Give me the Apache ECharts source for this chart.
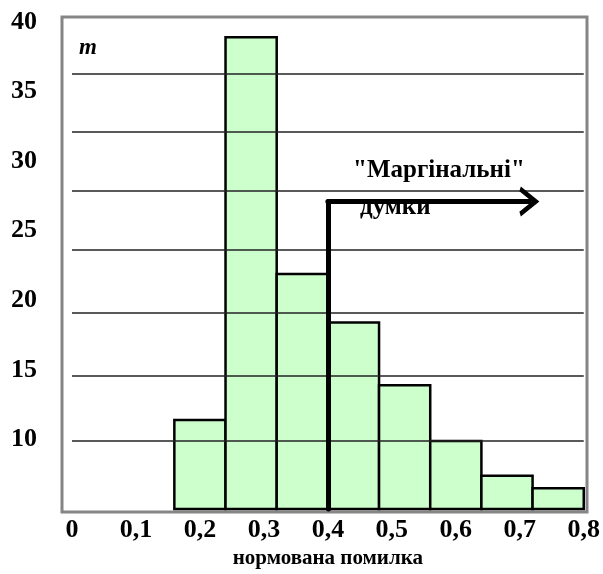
<!DOCTYPE html>
<html>
<head>
<meta charset="utf-8">
<script src="https://cdn.jsdelivr.net/npm/echarts@6/dist/echarts.min.js"></script>
<style>
  html, body { margin: 0; padding: 0; background: #fff; }
  #chart { width: 603px; height: 574px; }
</style>
</head>
<body>
<div id="chart"></div>
<script>
// histogram bins (normalised error) and counts m
const binEdges = [0.16, 0.24, 0.32, 0.40, 0.48, 0.56, 0.64, 0.72, 0.80];
const counts = [11.4, 38.9, 21.9, 18.4, 13.9, 9.9, 7.4, 6.5];
const yTicks = [10, 15, 20, 25, 30, 35, 40];
const xTicks = [0, 0.1, 0.2, 0.3, 0.4, 0.5, 0.6, 0.7, 0.8];
// horizontal rules as drawn in the original figure
const gridLevels = [9.9, 14.6, 19.1, 23.6, 27.9, 32.1, 36.3];
// "marginal" arrow: up from 0.4, then right
const arrowPath = [[0.4, 5], [0.4, 27.1], [0.715, 27.1]];

const FONT = '"Liberation Serif", "DejaVu Serif", serif';

const barData = counts.map((c, i) => [binEdges[i], binEdges[i + 1], c]);

const chart = echarts.init(document.getElementById('chart'));

const option = {
    backgroundColor: '#fff',
    animation: false,
    grid: [
        { left: 62, right: 16, top: 17, bottom: 62, show: true, borderColor: '#858585', borderWidth: 3, backgroundColor: 'transparent' },
        { left: 72, right: 19, top: 22, bottom: 62 }
    ],
    xAxis: [
        { gridIndex: 0, type: 'value', min: 0, max: 1, show: false },
        {
            gridIndex: 1,
            type: 'value',
            min: 0,
            max: 0.8,
            interval: 0.1,
            axisLine: { show: false },
            axisTick: { show: false },
            splitLine: { show: false },
            axisLabel: {
                margin: 8,
                color: '#000',
                fontFamily: FONT,
                fontWeight: 'bold',
                fontSize: 26,
                formatter: v => xTicks.some(t => Math.abs(t - v) < 1e-6) ? String(+v.toFixed(1)).replace('.', ',') : ''
            },
            name: 'нормована помилка',
            nameLocation: 'middle',
            nameGap: 33,
            nameTextStyle: { color: '#000', fontFamily: FONT, fontWeight: 'bold', fontSize: 21 }
        }
    ],
    yAxis: [
        { gridIndex: 0, type: 'value', min: 0, max: 1, show: false },
        {
            gridIndex: 1,
            type: 'value',
            min: 5,
            max: 40,
            interval: 5,
            axisLine: { show: false },
            axisTick: { show: false },
            splitLine: { show: false },
            axisLabel: {
                margin: 35,
                color: '#000',
                fontFamily: FONT,
                fontWeight: 'bold',
                fontSize: 26,
                formatter: v => yTicks.indexOf(v) >= 0 ? String(v) : ''
            }
        }
    ],
    graphic: [
        { type: 'text', left: 79, top: 37, style: { text: 'm', fill: '#000', font: 'italic bold 23px ' + FONT } },
        { type: 'text', left: 353, top: 158, z: 10, style: { text: '"Маргінальні"', fill: '#000', font: 'bold 25px ' + FONT } },
        { type: 'text', left: 360, top: 195, z: 10, style: { text: 'думки', fill: '#000', font: 'bold 25px ' + FONT } }
    ],
    series: [
        {
            type: 'line',
            xAxisIndex: 1,
            yAxisIndex: 1,
            z: 1,
            data: [],
            silent: true,
            markLine: {
                silent: true,
                symbol: 'none',
                label: { show: false },
                lineStyle: { color: '#222', width: 1.5, type: 'solid' },
                data: gridLevels.map(v => ({ yAxis: v }))
            }
        },
        {
            type: 'custom',
            xAxisIndex: 1,
            yAxisIndex: 1,
            z: 3,
            data: barData,
            renderItem: function (params, api) {
                const p0 = api.coord([api.value(0), api.value(2)]);
                const p1 = api.coord([api.value(1), 5]);
                return {
                    type: 'rect',
                    shape: { x: p0[0], y: p0[1], width: p1[0] - p0[0], height: p1[1] - p0[1] },
                    style: { fill: '#ccffcc', stroke: '#000', lineWidth: 2.5 }
                };
            }
        },
        {
            type: 'line',
            xAxisIndex: 1,
            yAxisIndex: 1,
            z: 5,
            data: [],
            silent: true,
            markLine: {
                silent: true,
                label: { show: false },
                lineStyle: { color: '#000', width: 5, type: 'solid', cap: 'round' },
                data: [
                    [
                        { coord: arrowPath[0], symbol: 'none' },
                        { coord: arrowPath[1], symbol: 'none' }
                    ],
                    [
                        { coord: arrowPath[1], symbol: 'none' },
                        { coord: arrowPath[2], symbol: 'path://M0,10 L5,0 L10,10 L8.4,10.8 L5,4 L1.6,10.8 Z', symbolSize: [30, 20] }
                    ]
                ]
            }
        }
    ]
};

chart.setOption(option);
</script>
</body>
</html>
